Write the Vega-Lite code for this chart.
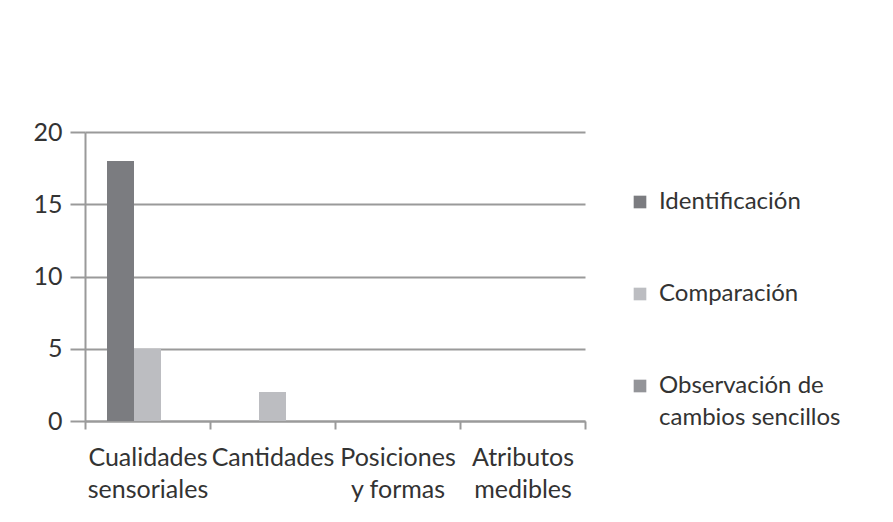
{
  "$schema": "https://vega.github.io/schema/vega-lite/v6.json",
  "width": 500,
  "height": 289,
  "autosize": {"type": "none"},
  "padding": {"left": 85, "top": 132, "right": 308, "bottom": 101},
  "background": "white",
  "config": {
    "view": {"stroke": null},
    "font": "Lato",
    "style": {"guide-label": {"lineHeight": 32}}
  },
  "data": {
    "values": [
      {"categoria": "Cualidades sensoriales", "serie": "Identificación", "valor": 18},
      {"categoria": "Cualidades sensoriales", "serie": "Comparación", "valor": 5},
      {"categoria": "Cualidades sensoriales", "serie": "Observación de cambios sencillos", "valor": 0},
      {"categoria": "Cantidades", "serie": "Identificación", "valor": 0},
      {"categoria": "Cantidades", "serie": "Comparación", "valor": 2},
      {"categoria": "Cantidades", "serie": "Observación de cambios sencillos", "valor": 0},
      {"categoria": "Posiciones y formas", "serie": "Identificación", "valor": 0},
      {"categoria": "Posiciones y formas", "serie": "Comparación", "valor": 0},
      {"categoria": "Posiciones y formas", "serie": "Observación de cambios sencillos", "valor": 0},
      {"categoria": "Atributos medibles", "serie": "Identificación", "valor": 0},
      {"categoria": "Atributos medibles", "serie": "Comparación", "valor": 0},
      {"categoria": "Atributos medibles", "serie": "Observación de cambios sencillos", "valor": 0}
    ]
  },
  "mark": {"type": "bar"},
  "encoding": {
    "x": {
      "field": "categoria",
      "type": "nominal",
      "sort": ["Cualidades sensoriales", "Cantidades", "Posiciones y formas", "Atributos medibles"],
      "scale": {"paddingInner": 0, "paddingOuter": 0},
      "axis": {
        "title": null,
        "labelAngle": 0,
        "tickBand": "extent",
        "domainColor": "#9a9a9a",
        "domainWidth": 2,
        "tickColor": "#9a9a9a",
        "tickWidth": 2,
        "tickSize": 8,
        "labelFontSize": 25,
        "labelColor": "#333333",
        "labelPadding": 16,
        "labelBaseline": "top",
        "labelLimit": 0,
        "labelOverlap": false,
        "labelExpr": "datum.label == 'Posiciones y formas' ? ['Posiciones', 'y formas'] : datum.label == 'Atributos medibles' ? ['Atributos', 'medibles'] : datum.label == 'Cualidades sensoriales' ? ['Cualidades', 'sensoriales'] : datum.label"
      }
    },
    "xOffset": {
      "field": "serie",
      "type": "nominal",
      "sort": ["Identificación", "Comparación", "Observación de cambios sencillos"],
      "scale": {"paddingInner": 0, "paddingOuter": 0.815}
    },
    "y": {
      "field": "valor",
      "type": "quantitative",
      "scale": {"domain": [0, 20], "nice": false},
      "axis": {
        "title": null,
        "values": [0, 5, 10, 15, 20],
        "grid": true,
        "gridColor": "#9a9a9a",
        "gridWidth": 2,
        "domainColor": "#9a9a9a",
        "domainWidth": 2,
        "tickColor": "#9a9a9a",
        "tickWidth": 2,
        "tickSize": 15,
        "labelFontSize": 25,
        "labelColor": "#333333",
        "labelPadding": 8
      }
    },
    "color": {
      "field": "serie",
      "type": "nominal",
      "sort": ["Identificación", "Comparación", "Observación de cambios sencillos"],
      "scale": {
        "domain": ["Identificación", "Comparación", "Observación de cambios sencillos"],
        "range": ["#7b7c80", "#bcbdc1", "#939498"]
      },
      "legend": {
        "title": null,
        "orient": "none",
        "legendX": 543,
        "legendY": 58,
        "symbolType": "square",
        "symbolSize": 160,
        "symbolStrokeWidth": 0,
        "labelFontSize": 24,
        "labelColor": "#333333",
        "labelOffset": 7,
        "labelLimit": 300,
        "rowPadding": 68,
        "labelBaseline": "middle",
        "labelExpr": "datum.label == 'Observación de cambios sencillos' ? ['Observación de', 'cambios sencillos'] : datum.label"
      }
    }
  }
}
